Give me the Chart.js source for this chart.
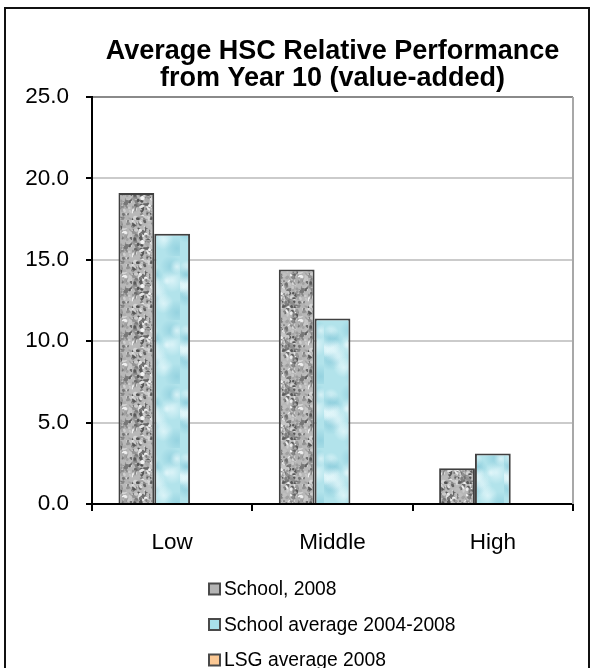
<!DOCTYPE html>
<html>
<head>
<meta charset="utf-8">
<script src="https://cdn.jsdelivr.net/npm/chart.js@4.4.1/dist/chart.umd.min.js"></script>
<style>
  html, body { margin: 0; padding: 0; background: #fff; }
  #wrap { position: relative; width: 594px; height: 668px; overflow: hidden; }
  #frame { position: absolute; left: 4px; top: 7px; width: 582px; height: 700px; border: 2px solid #111; pointer-events: none; }
  canvas { position: absolute; left: 0; top: 0; }
</style>
</head>
<body>
<div id="wrap">
  <canvas id="chart" width="594" height="668"></canvas>
  <div id="frame"></div>
</div>
<script>
// data
const categories = ['Low', 'Middle', 'High'];
const school2008 = [19.1, 14.4, 2.2];
const schoolAvg = [16.6, 11.4, 3.1];
const lsgAvg = [null, null, null]; // no bars drawn in the picture
const seriesNames = ['School, 2008', 'School average 2004-2008', 'LSG average 2008'];
const yTicks = [0, 5, 10, 15, 20, 25];
const titleLines = ['Average HSC Relative Performance', 'from Year 10 (value-added)'];

const FONT = '"Liberation Sans", Arial, sans-serif';
Chart.defaults.font.family = FONT;
Chart.defaults.color = '#000';

// textures (fixed seed, just for the look of the fill)
function seeded(seed) {
  let s = seed >>> 0;
  return () => { s = (s * 1664525 + 1013904223) >>> 0; return s / 4294967296; };
}

function granite() {
  const c = document.createElement('canvas');
  c.width = c.height = 44;
  const g = c.getContext('2d');
  g.fillStyle = '#b8b8b8';
  g.fillRect(0, 0, 44, 44);
  const rnd = seeded(11);
  for (let i = 0; i < 300; i++) {
    const v = Math.floor(80 + rnd() * 165);
    g.fillStyle = `rgb(${v},${v},${v})`;
    g.beginPath();
    g.ellipse(rnd() * 44, rnd() * 44, 0.8 + rnd() * 2.2, 0.6 + rnd() * 1.6, rnd() * 3, 0, Math.PI * 2);
    g.fill();
  }
  return g.createPattern(c, 'repeat');
}

function water() {
  const c = document.createElement('canvas');
  c.width = 36; c.height = 64;
  const g = c.getContext('2d');
  g.fillStyle = '#b2e3eb';
  g.fillRect(0, 0, 36, 64);
  const rnd = seeded(3);
  for (let i = 0; i < 16; i++) {
    const x = rnd() * 36, y = rnd() * 64, r = 4 + rnd() * 9;
    const grd = g.createRadialGradient(x, y, 0, x, y, r);
    const col = i % 3 === 0 ? '140,205,220' : '232,249,252';
    grd.addColorStop(0, `rgba(${col},0.75)`);
    grd.addColorStop(1, `rgba(${col},0)`);
    g.fillStyle = grd;
    g.fillRect(x - r, y - r, 2 * r, 2 * r);
  }
  return g.createPattern(c, 'repeat');
}

// plot frame on the right side
const plotFrame = {
  id: 'plotFrame',
  beforeDatasetsDraw(chart) {
    const { ctx, chartArea: a } = chart;
    ctx.save();
    ctx.strokeStyle = '#a8a8a8';
    ctx.lineWidth = 2;
    ctx.beginPath();
    ctx.moveTo(a.right, a.top);
    ctx.lineTo(a.right, a.bottom);
    ctx.stroke();
    ctx.restore();
  }
};

// title centred over the plot area (the built-in one centres on the canvas)
const plotTitle = {
  id: 'plotTitle',
  afterDraw(chart) {
    const { ctx, chartArea: a } = chart;
    ctx.save();
    ctx.font = `bold 27px ${FONT}`;
    ctx.fillStyle = '#000';
    ctx.textAlign = 'center';
    ctx.textBaseline = 'alphabetic';
    const cx = (a.left + a.right) / 2;
    titleLines.forEach((line, i) => ctx.fillText(line, cx, a.top - 38 + i * 27));
    ctx.restore();
  }
};

// vertical legend under the x axis
const legendList = {
  id: 'legendList',
  afterDraw(chart) {
    const { ctx, chartArea: a, scales } = chart;
    const box = 11, gap = 4, rowH = 35.5;
    ctx.save();
    ctx.font = `19.3px ${FONT}`;
    const widths = chart.data.datasets.map(d => box + gap + ctx.measureText(d.label).width);
    const x0 = Math.round((a.left + a.right) / 2 - Math.max(...widths) / 2);
    let y = scales.x.bottom + 25;
    chart.data.datasets.forEach(d => {
      ctx.fillStyle = d.legendColor;
      ctx.fillRect(x0, y - box / 2, box, box);
      ctx.strokeStyle = '#4a4a4a';
      ctx.lineWidth = 2;
      ctx.strokeRect(x0, y - box / 2, box, box);
      ctx.fillStyle = '#000';
      ctx.textBaseline = 'middle';
      ctx.fillText(d.label, x0 + box + gap, y + 1);
      y += rowH;
    });
    ctx.restore();
  }
};

const barStyle = { borderColor: '#404040', borderWidth: 2 };

new Chart(document.getElementById('chart'), {
  type: 'bar',
  data: {
    labels: categories,
    datasets: [
      { label: seriesNames[0], data: school2008, backgroundColor: granite(), legendColor: '#b4b4b4', ...barStyle },
      { label: seriesNames[1], data: schoolAvg, backgroundColor: water(), legendColor: '#a9e0ea', ...barStyle },
      { label: seriesNames[2], data: lsgAvg, backgroundColor: '#fbc894', legendColor: '#fbc894', ...barStyle },
    ],
  },
  options: {
    responsive: false,
    animation: false,
    layout: { padding: { left: 0, right: 21, top: 97, bottom: 104 } },
    datasets: { bar: { categoryPercentage: 0.67, barPercentage: 1 } },
    plugins: {
      legend: { display: false },
      tooltip: { enabled: false },
      title: { display: false },
    },
    scales: {
      x: {
        offset: true,
        grid: { offset: true, drawOnChartArea: false, color: '#000', lineWidth: 2, tickLength: 7 },
        border: { color: '#000', width: 2 },
        ticks: { font: { size: 22.5 }, padding: 18, color: '#000' },
        afterFit(s) { s.height = 60; },
      },
      y: {
        min: yTicks[0],
        max: yTicks[yTicks.length - 1],
        ticks: { stepSize: yTicks[1] - yTicks[0], callback: v => Number(v).toFixed(1), padding: 17, font: { size: 22.5 }, color: '#000' },
        grid: {
          color: c => c.tick.value === 0 ? '#000' : (c.tick.value === 25 ? '#8a8a8a' : '#cbcbcb'),
          lineWidth: 2,
          tickColor: '#000',
          tickLength: 6,
        },
        border: { color: '#000', width: 2 },
        afterFit(s) { s.width = 92; },
      },
    },
  },
  plugins: [plotFrame, plotTitle, legendList],
});
</script>
</body>
</html>
